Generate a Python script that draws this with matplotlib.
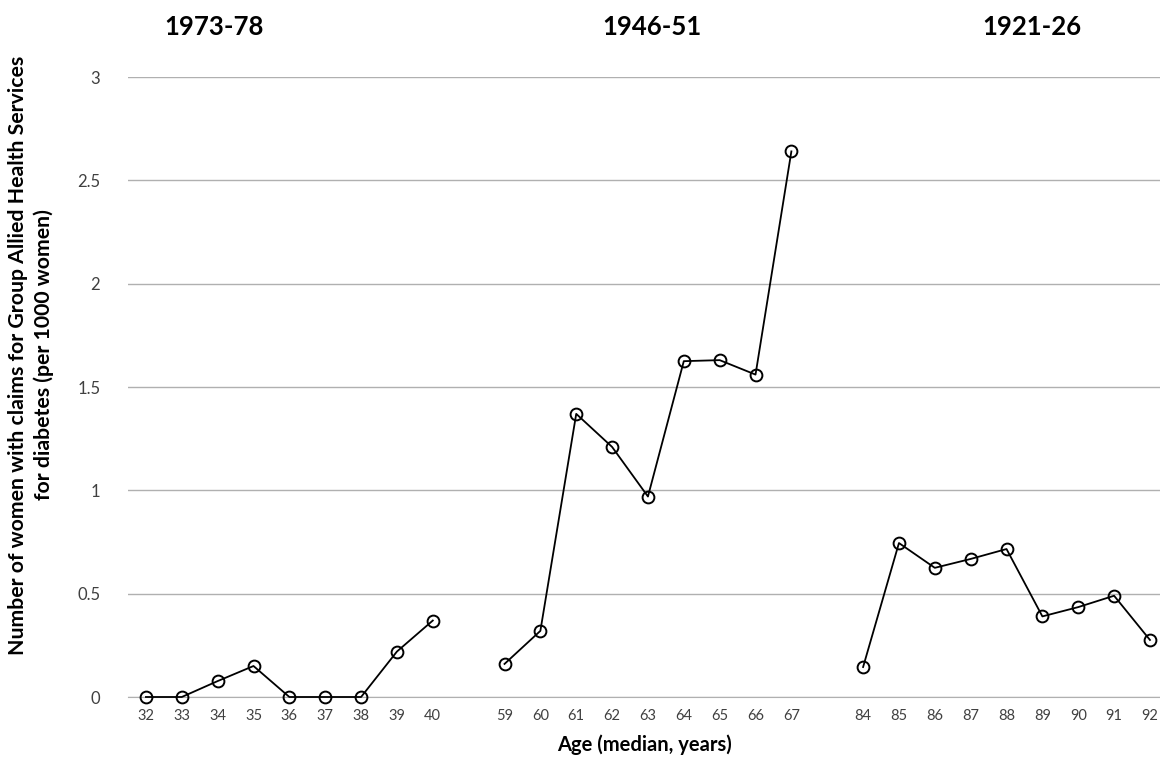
import matplotlib.pyplot as plt
import numpy as np

plt.rcParams["font.family"] = ["Lato", "DejaVu Sans"]

ages_1973 = [32, 33, 34, 35, 36, 37, 38, 39, 40]
vals_1973 = [0, 0, 0.077, 0.15, 0, 0, 0, 0.22, 0.37]

ages_1946 = [59, 60, 61, 62, 63, 64, 65, 66, 67]
vals_1946 = [0.16, 0.32, 1.37, 1.21, 0.97, 1.625, 1.63, 1.56, 2.64]

ages_1921 = [84, 85, 86, 87, 88, 89, 90, 91, 92]
vals_1921 = [0.145, 0.745, 0.625, 0.668, 0.716, 0.39, 0.435, 0.49, 0.276]

cohorts = ["1973-78", "1946-51", "1921-26"]

fig = plt.figure(figsize=(11.6, 7.61), dpi=100)
ax = fig.add_axes([128 / 1160, 64 / 761, 1 - 128 / 1160, 620 / 761])

# categorical x axis: each group of ages followed by one empty slot
labels = []
pos = 0
for ages, vals in [(ages_1973, vals_1973), (ages_1946, vals_1946), (ages_1921, vals_1921)]:
    x = np.arange(pos, pos + len(ages))
    ax.plot(x, vals, color="black", lw=1.3, marker="o", markersize=8.5,
            markerfacecolor="none", markeredgewidth=1.4, clip_on=False, zorder=3)
    labels += [(p, str(a)) for p, a in zip(x, ages)]
    pos += len(ages) + 1

ax.set_xticks([p for p, _ in labels])
ax.set_xticklabels([l for _, l in labels], fontsize=10.5, color="#404040")
ax.set_xlim(-0.5, 28.28)
ax.set_ylim(0, 3)
ax.set_yticks([0, 0.5, 1, 1.5, 2, 2.5, 3])
ax.set_yticklabels(["0", "0.5", "1", "1.5", "2", "2.5", "3"], fontsize=12, color="#404040")
ax.tick_params(axis="both", length=0)
ax.tick_params(axis="x", pad=9)
ax.tick_params(axis="y", pad=20)
ax.grid(True, axis="y", color="#b0b0b0", lw=1)
ax.set_axisbelow(True)
for s in ["top", "right", "left"]:
    ax.spines[s].set_visible(False)
ax.spines["bottom"].set_color("#b0b0b0")

ax.set_xlabel("Age (median, years)", fontsize=14.5, fontweight="bold", labelpad=8)
fig.text(31 / 1160, 1 - 355 / 761,
         "Number of women with claims for Group Allied Health Services\nfor diabetes (per 1000 women)",
         rotation=90, ha="center", va="center", fontsize=15.3, fontweight="bold",
         linespacing=1.3)

for name, xc in zip(cohorts, [214, 652, 1032]):
    fig.text(xc / 1160, 1 - 27 / 761, name, ha="center", va="center",
             fontsize=18.5, fontweight="bold")

plt.savefig("out.png", dpi=100)
plt.close()
